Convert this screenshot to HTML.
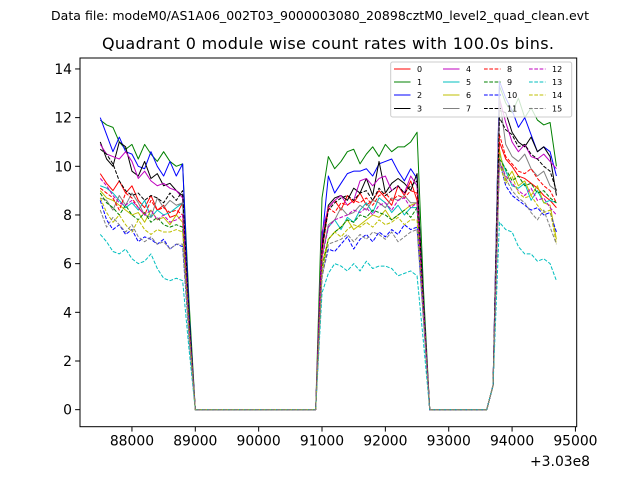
<!DOCTYPE html>
<html><head><meta charset="utf-8"><style>
html,body{margin:0;padding:0;background:#fff;}
svg{display:block;font-family:"DejaVu Sans","Liberation Sans",sans-serif;}
</style></head><body>
<svg id="chart" width="640" height="480" viewBox="0 0 640 480">
<rect width="640" height="480" fill="#fff"/>
<text x="320" y="20" font-size="12.5" text-anchor="middle" textLength="538">Data file: modeM0/AS1A06_002T03_9000003080_20898cztM0_level2_quad_clean.evt</text>
<text x="328" y="49" font-size="16" text-anchor="middle" textLength="452">Quadrant 0 module wise count rates with 100.0s bins.</text>
<g id="plot"></g>
<g id="axes"></g>
<g id="legend"></g>
</svg>
<script>
const t0 = 87500, step = 100;
const xTicks = [88000,89000,90000,91000,92000,93000,94000,95000];
const xTickLabels = ["88000","89000","90000","91000","92000","93000","94000","95000"];
const yTicks = [0,2,4,6,8,10,12,14];
const yTickLabels = ["0","2","4","6","8","10","12","14"];
const seriesNames = ["0","1","2","3","4","5","6","7","8","9","10","11","12","13","14","15"];
const zeros1 = [0,0,0,0,0,0,0,0,0,0,0,0,0,0,0,0,0,0,0,0];
const zeros2 = [0,0,0,0,0,0,0,0,0,0];
const seg1 = [
[9.7,9.3,9.0,9.4,8.9,9.2,8.6,8.3,8.8,8.2,8.4,7.9,8.0,8.5,3.5],
[11.9,11.7,11.6,11.0,10.7,10.9,10.3,10.9,10.5,10.2,10.6,10.2,10.0,10.1,4.5],
[12.0,11.3,10.6,11.2,10.6,10.5,10.0,9.9,10.6,10.0,9.6,10.2,9.6,10.1,4.0],
[11.0,10.3,10.0,11.0,10.8,9.8,9.6,10.2,9.5,9.7,9.2,9.3,9.0,8.8,3.8],
[10.9,10.5,10.4,10.3,10.6,10.2,9.5,9.8,9.4,9.2,9.3,9.1,9.0,8.7,3.5],
[9.2,9.1,8.9,8.6,8.3,8.5,8.2,8.6,7.9,8.2,8.0,8.1,8.3,8.5,3.5],
[9.0,8.7,8.6,8.4,8.2,8.0,8.1,7.7,8.2,7.8,7.9,7.6,8.0,7.7,3.3],
[8.7,8.6,8.2,8.8,8.4,8.9,8.5,8.0,7.9,8.7,8.3,8.6,8.4,8.5,3.5],
[9.1,8.9,8.7,8.2,8.9,8.7,8.3,8.0,8.6,8.2,8.3,8.1,8.2,8.0,3.5],
[8.9,8.5,8.3,8.0,8.4,8.0,7.8,8.1,7.7,7.9,7.6,7.5,7.6,7.5,3.3],
[8.6,7.8,7.4,7.6,7.2,7.4,6.9,7.1,7.0,6.8,7.0,6.6,6.8,6.7,3.0],
[10.7,10.5,10.1,9.4,9.0,8.8,8.9,8.6,8.8,8.7,8.5,8.9,8.6,9.0,3.6],
[9.5,9.2,8.8,8.5,8.4,8.6,8.3,8.0,8.2,7.8,8.0,7.7,7.8,8.0,3.4],
[7.2,6.9,6.5,6.4,6.6,6.2,6.0,6.1,6.4,5.8,5.4,5.3,5.4,5.3,2.5],
[8.7,8.1,7.7,8.0,7.6,7.3,7.8,7.4,7.2,7.4,7.3,7.3,7.4,7.3,3.2],
[8.2,7.5,7.9,7.6,7.3,7.6,7.1,6.9,7.1,6.8,6.9,6.6,6.8,6.8,3.0]];
const seg2 = [
[6.5,8.3,8.6,8.2,8.8,8.5,8.9,8.4,8.6,9.0,8.7,8.4,9.2,8.8,9.4,8.6,4.5],
[8.7,10.4,9.9,10.2,10.6,10.7,10.1,10.5,10.8,10.4,10.9,10.6,10.8,10.8,11.0,11.4,5.0],
[7.0,9.6,8.9,9.3,9.7,9.8,9.8,9.9,9.6,10.1,10.2,10.3,9.8,9.4,9.9,9.5,4.5],
[6.8,8.4,8.7,8.8,8.6,9.1,8.9,9.5,8.8,10.2,8.9,9.3,9.5,9.3,9.0,9.7,4.3],
[7.3,8.3,8.6,8.8,8.4,8.6,9.4,9.5,9.2,9.5,9.6,9.0,9.2,8.9,9.6,9.2,4.3],
[6.3,7.5,7.8,7.4,7.9,7.7,8.2,8.5,8.1,8.7,8.5,8.1,8.4,8.0,8.3,8.3,4.0],
[6.0,7.0,7.3,7.5,7.8,7.4,7.6,7.8,8.0,7.9,8.2,7.8,8.0,8.2,8.4,8.5,4.0],
[6.3,7.6,7.8,8.3,8.0,8.1,8.4,8.2,8.6,8.5,8.3,8.7,8.6,8.8,8.5,8.5,4.1],
[6.5,8.3,8.1,8.5,8.4,8.6,8.5,8.7,8.4,8.8,8.9,8.6,8.8,8.7,9.0,8.9,4.3],
[5.8,7.0,7.3,7.5,7.8,7.7,8.0,7.9,8.2,8.1,8.0,7.8,8.0,8.2,7.9,8.3,4.0],
[5.5,6.6,6.5,6.8,7.1,6.6,7.0,7.2,6.9,7.3,7.1,7.4,7.2,7.6,7.4,7.5,3.8],
[6.6,8.2,8.5,8.7,8.8,8.6,8.9,9.0,8.6,9.1,8.8,9.0,9.2,8.9,9.2,9.4,4.3],
[6.2,7.5,7.8,7.9,8.0,8.2,8.1,8.3,8.0,8.4,8.5,8.2,8.6,8.7,8.3,8.5,4.0],
[4.8,5.6,6.0,5.9,5.7,6.0,5.7,6.1,5.8,5.9,5.9,5.8,5.5,5.6,5.7,5.5,2.8],
[5.6,7.0,7.3,7.1,7.4,7.6,7.5,7.7,7.5,7.8,7.6,7.7,7.9,7.6,7.8,7.8,3.8],
[5.4,6.8,6.9,7.0,7.2,6.9,7.2,7.0,7.3,7.2,7.0,7.3,6.9,7.1,7.3,7.4,3.7]];
const seg3 = [
[1.0,11.0,10.3,10.0,9.6,9.5,9.3,9.1,8.8,8.6,8.3],
[1.0,13.3,12.6,12.2,12.8,12.0,12.4,11.9,11.7,11.8,10.0],
[1.0,13.5,12.8,12.3,11.6,12.0,11.3,10.6,10.8,10.6,9.6],
[1.0,12.3,12.2,11.4,11.0,10.8,11.2,10.6,10.8,10.4,8.8],
[1.0,12.8,11.8,11.0,10.6,10.9,10.4,10.3,10.5,10.2,9.9],
[1.0,10.5,9.8,9.2,9.1,9.3,8.6,9.0,8.5,8.6,8.5],
[1.0,10.7,9.4,9.8,9.2,9.4,8.8,9.2,8.5,8.4,7.0],
[1.0,12.8,10.9,10.4,10.2,10.5,9.9,9.6,9.8,9.2,9.0],
[1.0,11.3,10.4,10.1,9.8,9.7,9.9,9.5,9.2,9.0,8.5],
[1.0,10.3,9.9,9.4,9.6,9.2,9.3,8.9,9.0,8.7,8.5],
[1.0,10.2,9.2,8.8,8.6,8.4,8.2,8.3,8.0,8.1,7.3],
[1.0,12.0,11.5,11.3,10.8,10.9,10.5,10.3,10.0,9.8,9.0],
[1.0,10.2,9.6,9.3,9.0,8.8,9.1,8.6,8.7,8.3,8.0],
[1.0,7.7,7.4,7.3,6.7,6.4,6.4,6.1,6.2,6.0,5.3],
[1.0,10.1,9.3,9.6,8.9,8.7,8.8,8.4,8.1,8.2,6.8],
[1.0,10.2,9.5,9.0,8.7,8.5,8.1,7.8,8.2,7.5,6.8]];

const colors = ["#ff0000","#008000","#0000ff","#000000","#bf00bf","#00bfbf","#bfbf00","#808080"];
const NS = "http://www.w3.org/2000/svg";
const L = 80, R = 576.7, T = 58, B = 426.7;
const xMin = 87180, xMax = 95020, yMin = -0.7, yMax = 14.45;
function xs(v){ return L + (v - xMin) / (xMax - xMin) * (R - L); }
function ys(v){ return B - (v - yMin) / (yMax - yMin) * (B - T); }
function mk(tag, attrs, parent){ const e = document.createElementNS(NS, tag); for (const k in attrs) e.setAttribute(k, attrs[k]); parent.appendChild(e); return e; }

const plot = document.getElementById("plot");
const axes = document.getElementById("axes");
const legend = document.getElementById("legend");

for (let i = 0; i < 16; i++) {
  const vals = seg1[i].concat(zeros1, seg2[i], zeros2, seg3[i]);
  const pts = vals.map((v, k) => xs(t0 + k * step).toFixed(2) + "," + ys(v).toFixed(2)).join(" ");
  const a = {points: pts, fill: "none", stroke: colors[i % 8], "stroke-width": 1, "stroke-linejoin": "round"};
  if (i >= 8) a["stroke-dasharray"] = "3.7,1.6";
  const pl = mk("polyline", a, plot);
  
  
}

const frame = mk("rect", {x: L, y: T, width: R - L, height: B - T, fill: "none", stroke: "#000", "stroke-width": 1}, axes);



xTicks.forEach((v, i) => {
  const x = xs(v);
  const tk = mk("line", {x1: x, x2: x, y1: B, y2: B + 4.9, stroke: "#000", "stroke-width": 1}, axes);
  
  
  const tx = mk("text", {x: x, y: B + 19, "font-size": 13.9, "text-anchor": "middle"}, axes);
  tx.textContent = xTickLabels[i];
  
  
});
yTicks.forEach((v, i) => {
  const y = ys(v);
  const tk = mk("line", {x1: L - 4.9, x2: L, y1: y, y2: y, stroke: "#000", "stroke-width": 1}, axes);
  
  
  const tx = mk("text", {x: L - 8, y: y + 5, "font-size": 13.9, "text-anchor": "end"}, axes);
  tx.textContent = yTickLabels[i];
  
  
});
const off = mk("text", {x: 590, y: 466, "font-size": 13.9, "text-anchor": "end"}, axes);
off.textContent = "+3.03e8";



const box = mk("rect", {x: 390.7, y: 62, width: 181, height: 55, rx: 2, fill: "#fff", "fill-opacity": 0.8, stroke: "#cccccc", "stroke-width": 1}, legend);


const colX = [394, 443, 484, 529];
const rowY = [69, 82, 95, 108.5];
for (let i = 0; i < 16; i++) {
  const c = Math.floor(i / 4), r = i % 4;
  const g = mk("g", {}, legend);
  
  
  const la = {x1: colX[c], x2: colX[c] + 16.5, y1: rowY[r], y2: rowY[r], stroke: colors[i % 8], "stroke-width": 1};
  if (i >= 8) la["stroke-dasharray"] = "3.7,1.6";
  mk("line", la, g);
  const tx = mk("text", {x: colX[c] + 23, y: rowY[r] + 3, "font-size": 8}, g);
  tx.textContent = seriesNames[i];
}
</script>
</body></html>
